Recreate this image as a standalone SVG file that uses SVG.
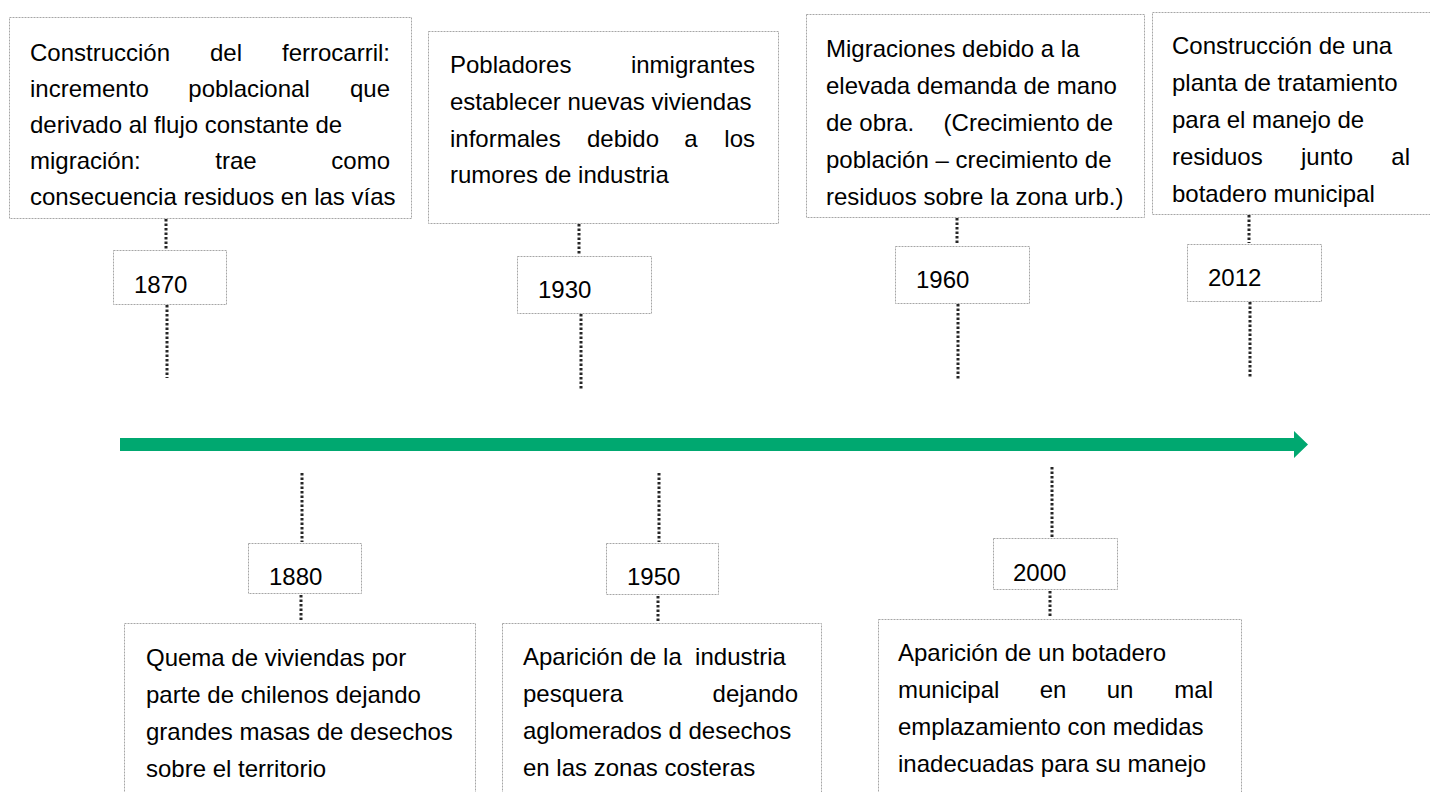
<svg xmlns="http://www.w3.org/2000/svg" width="1430" height="792" viewBox="0 0 1430 792">
<style>
.box{fill:#fff;stroke:#a6a6a6;stroke-width:1;stroke-dasharray:2 1}
.t{font-family:"Liberation Sans",Arial,sans-serif;font-size:24px;fill:#000}
.e{text-anchor:end}
.m{text-anchor:middle}
.dot{stroke:#262626;stroke-width:3;stroke-dasharray:2.5 2;fill:none}
</style>
<rect width="1430" height="792" fill="#fff"/>
<g id="connectors">
<line class="dot" x1="166" y1="219" x2="166" y2="249"/>
<line class="dot" x1="167" y1="305" x2="167" y2="378"/>
<line class="dot" x1="579" y1="224" x2="579" y2="255"/>
<line class="dot" x1="581" y1="314" x2="581" y2="390"/>
<line class="dot" x1="957" y1="218" x2="957" y2="245"/>
<line class="dot" x1="958" y1="304" x2="958" y2="380"/>
<line class="dot" x1="1249" y1="215" x2="1249" y2="243"/>
<line class="dot" x1="1250" y1="302" x2="1250" y2="378"/>
<line class="dot" x1="302" y1="473" x2="302" y2="542"/>
<line class="dot" x1="301" y1="595" x2="301" y2="621"/>
<line class="dot" x1="659" y1="473" x2="659" y2="542"/>
<line class="dot" x1="658" y1="596" x2="658" y2="622"/>
<line class="dot" x1="1052" y1="467" x2="1052" y2="537"/>
<line class="dot" x1="1050" y1="591" x2="1050" y2="618"/>
<path d="M120 438 H1294 V431 L1308 444.5 L1294 458 V451 H120 Z" fill="#00a870"/>
</g>
<g id="e1870">
<rect class="box" x="9.5" y="17.5" width="402" height="201"/>
<text class="t" x="30" y="61">Construcción</text><text class="t m" x="226" y="61">del</text><text class="t e" x="390" y="61">ferrocarril:</text>
<text class="t" x="30" y="97">incremento</text><text class="t m" x="249" y="97">poblacional</text><text class="t e" x="390" y="97">que</text>
<text class="t" x="30" y="133">derivado al flujo constante de</text>
<text class="t" x="30" y="169">migración:</text><text class="t m" x="236" y="169">trae</text><text class="t e" x="390" y="169">como</text>
<text class="t" x="30" y="205">consecuencia residuos en las vías</text>
</g>
<g id="y1870"><rect class="box" x="113.5" y="250.5" width="113" height="54"/><text class="t" x="134" y="293">1870</text></g>
<g id="e1930">
<rect class="box" x="428.5" y="31.5" width="350" height="192"/>
<text class="t" x="450" y="73">Pobladores</text><text class="t e" x="755" y="73">inmigrantes</text>
<text class="t" x="450" y="110">establecer nuevas viviendas</text>
<text class="t" x="450" y="147">informales</text><text class="t m" x="623" y="147">debido</text><text class="t m" x="691" y="147">a</text><text class="t e" x="755" y="147">los</text>
<text class="t" x="450" y="183">rumores de industria</text>
</g>
<g id="y1930"><rect class="box" x="517.5" y="256.5" width="134" height="57"/><text class="t" x="538" y="298">1930</text></g>
<g id="e1960">
<rect class="box" x="806.5" y="14.5" width="338" height="203"/>
<text class="t" x="826" y="57">Migraciones debido a la</text>
<text class="t" x="826" y="94">elevada demanda de mano</text>
<text class="t" x="826" y="131">de obra.</text><text class="t e" x="1113" y="131">(Crecimiento de</text>
<text class="t" x="826" y="168">población – crecimiento de</text>
<text class="t" x="826" y="205">residuos sobre la zona urb.)</text>
</g>
<g id="y1960"><rect class="box" x="895.5" y="246.5" width="134" height="57"/><text class="t" x="916" y="288">1960</text></g>
<g id="e2012">
<rect class="box" x="1152.5" y="12.5" width="290" height="202"/>
<text class="t" x="1172" y="54">Construcción de una</text>
<text class="t" x="1172" y="91">planta de tratamiento</text>
<text class="t" x="1172" y="128">para el manejo de</text>
<text class="t" x="1172" y="165">residuos</text><text class="t m" x="1327" y="165">junto</text><text class="t e" x="1410" y="165">al</text>
<text class="t" x="1172" y="202">botadero municipal</text>
</g>
<g id="y2012"><rect class="box" x="1187.5" y="244.5" width="134" height="57"/><text class="t" x="1208" y="286">2012</text></g>
<g id="y1880"><rect class="box" x="248.5" y="543.5" width="113" height="50"/><text class="t" x="269" y="585">1880</text></g>
<g id="e1880">
<rect class="box" x="124.5" y="623.5" width="351" height="180"/>
<text class="t" x="146" y="666">Quema de viviendas por</text>
<text class="t" x="146" y="703">parte de chilenos dejando</text>
<text class="t" x="146" y="740">grandes masas de desechos</text>
<text class="t" x="146" y="777">sobre el territorio</text>
</g>
<g id="y1950"><rect class="box" x="606.5" y="543.5" width="112" height="51"/><text class="t" x="627" y="585">1950</text></g>
<g id="e1950">
<rect class="box" x="502.5" y="623.5" width="319" height="180"/>
<text class="t" x="523" y="665" xml:space="preserve">Aparición de la  industria</text>
<text class="t" x="523" y="702">pesquera</text><text class="t e" x="798" y="702">dejando</text>
<text class="t" x="523" y="739">aglomerados d desechos</text>
<text class="t" x="523" y="776">en las zonas costeras</text>
</g>
<g id="y2000"><rect class="box" x="993.5" y="538.5" width="124" height="51"/><text class="t" x="1013" y="581">2000</text></g>
<g id="e2000">
<rect class="box" x="878.5" y="619.5" width="363" height="185"/>
<text class="t" x="898" y="661">Aparición de un botadero</text>
<text class="t" x="898" y="698">municipal</text><text class="t m" x="1053" y="698">en</text><text class="t m" x="1120" y="698">un</text><text class="t e" x="1213" y="698">mal</text>
<text class="t" x="898" y="735">emplazamiento con medidas</text>
<text class="t" x="898" y="772">inadecuadas para su manejo</text>
</g>
</svg>
